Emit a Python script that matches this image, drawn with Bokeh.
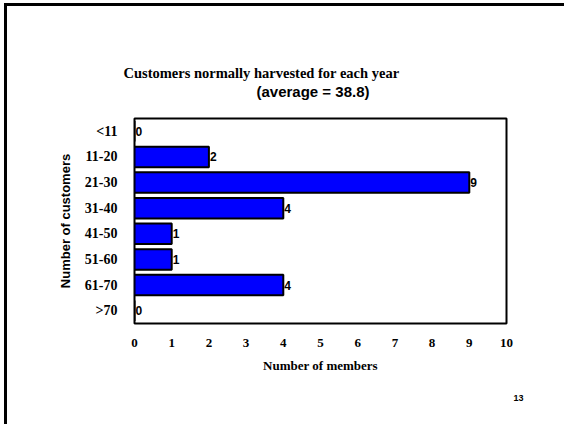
from bokeh.plotting import figure
from bokeh.models import Range1d, FixedTicker, Label, Title
from bokeh.embed import file_html
from bokeh.resources import INLINE

categories = ["<11", "11-20", "21-30", "31-40", "41-50", "51-60", "61-70", ">70"]
members = [0, 2, 9, 4, 1, 1, 4, 0]
x_ticks = [0, 1, 2, 3, 4, 5, 6, 7, 8, 9, 10]
title_text = "Customers normally harvested for each year"
subtitle_text = "(average = 38.8)"
x_title = "Number of members"
y_title = "Number of customers"
page_number = "13"

SERIF = "Liberation Serif"
SANS = "Liberation Sans"

p = figure(width=564, height=424, output_backend="svg", toolbar_location=None,
           x_range=Range1d(0, 10), y_range=Range1d(8, 0),
           min_border_left=134, min_border_right=58,
           min_border_top=118, min_border_bottom=101)
p.border_fill_color = None
p.background_fill_color = "white"
p.styles = {
    "background-image": "linear-gradient(#000,#000), linear-gradient(#000,#000)",
    "background-size": "560px 3px, 3px 421px",
    "background-position": "4px 3px, 4px 3px",
    "background-repeat": "no-repeat",
}

p.outline_line_color = "black"
p.outline_line_width = 2
p.xgrid.visible = False
p.ygrid.visible = False

rows = [i + 0.5 for i in range(len(categories))]
p.hbar(y=rows, right=members, left=0, height=0.8,
       fill_color="#0000FF", line_color="black", line_width=2)

# value labels
for r, v in zip(rows, members):
    p.add_layout(Label(x=v, y=r, text=str(v), text_font=SANS, text_font_style="bold",
                       text_font_size="12px", text_baseline="middle", text_align="left",
                       text_color="black", x_offset=1))

# axes
xa = p.xaxis[0]
xa.ticker = FixedTicker(ticks=x_ticks)
xa.axis_line_color = None
xa.major_tick_line_color = None
xa.minor_tick_line_color = None
xa.major_tick_out = 0
xa.major_label_standoff = 15
xa.major_label_text_font = SERIF
xa.major_label_text_font_style = "bold"
xa.major_label_text_font_size = "13px"
xa.major_label_text_color = "black"
xa.axis_label = x_title
xa.axis_label_standoff = 8
xa.axis_label_text_font = SERIF
xa.axis_label_text_font_style = "bold"
xa.axis_label_text_font_size = "13px"
xa.axis_label_text_color = "black"

ya = p.yaxis[0]
ya.ticker = FixedTicker(ticks=rows)
ya.major_label_overrides = {r: c for r, c in zip(rows, categories)}
ya.axis_line_color = None
ya.major_tick_line_color = None
ya.minor_tick_line_color = None
ya.major_tick_out = 0
ya.major_label_standoff = 17
ya.major_label_text_font = SERIF
ya.major_label_text_font_style = "bold"
ya.major_label_text_font_size = "14px"
ya.major_label_text_color = "black"
ya.axis_label = y_title
ya.axis_label_standoff = 9
ya.axis_label_text_font = SANS
ya.axis_label_text_font_style = "bold"
ya.axis_label_text_font_size = "13px"
ya.axis_label_text_color = "black"

# panels above the frame (first added sits closest to the frame)
p.add_layout(Title(text=" ", standoff=16, text_font_size="1px"), "above")  # spacer
p.add_layout(Title(text=subtitle_text, align="left", offset=122, standoff=0,
                   text_font=SANS, text_font_style="bold", text_font_size="15px",
                   text_color="black"), "above")
p.add_layout(Title(text=title_text, align="left", offset=-11, standoff=0,
                   text_font=SERIF, text_font_style="bold", text_font_size="14.5px",
                   text_color="black"), "above")

# page number
p.add_layout(Title(text=page_number, align="right", offset=-17, standoff=34,
                   text_font=SANS, text_font_style="bold", text_font_size="9px",
                   text_color="black"), "below")

open("out.html", "w").write(file_html(p, INLINE))
